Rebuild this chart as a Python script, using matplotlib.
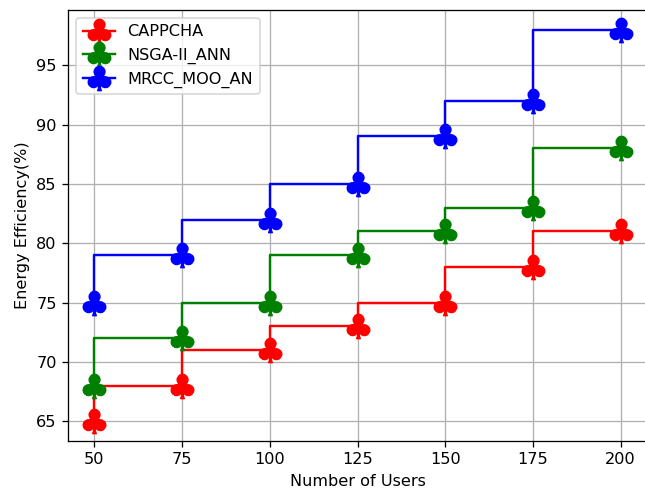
import matplotlib
matplotlib.use("Agg")
import matplotlib.pyplot as plt

users = [50, 75, 100, 125, 150, 175, 200]
cappcha = [65, 68, 71, 73, 75, 78, 81]
nsga = [68, 72, 75, 79, 81, 83, 88]
mrcc = [75, 79, 82, 85, 89, 92, 98]

dpi = 116
fig = plt.figure(figsize=(645/dpi, 492/dpi), dpi=dpi)
ax = fig.add_axes([68/645, 1-441/492, 579/645, 431/492])
ms = 15
ax.step(users, cappcha, where='pre', color='red', marker=r'$\clubsuit$', markersize=ms, label='CAPPCHA')
ax.step(users, nsga, where='pre', color='green', marker=r'$\clubsuit$', markersize=ms, label='NSGA-II_ANN')
ax.step(users, mrcc, where='pre', color='blue', marker=r'$\clubsuit$', markersize=ms, label='MRCC_MOO_AN')
ax.set_xticks(users)
ax.set_xlabel('Number of Users')
ax.set_ylabel('Energy Efficiency(%)')
ax.grid(True)
ax.legend(loc='upper left')
fig.savefig('out.png', dpi=dpi)
